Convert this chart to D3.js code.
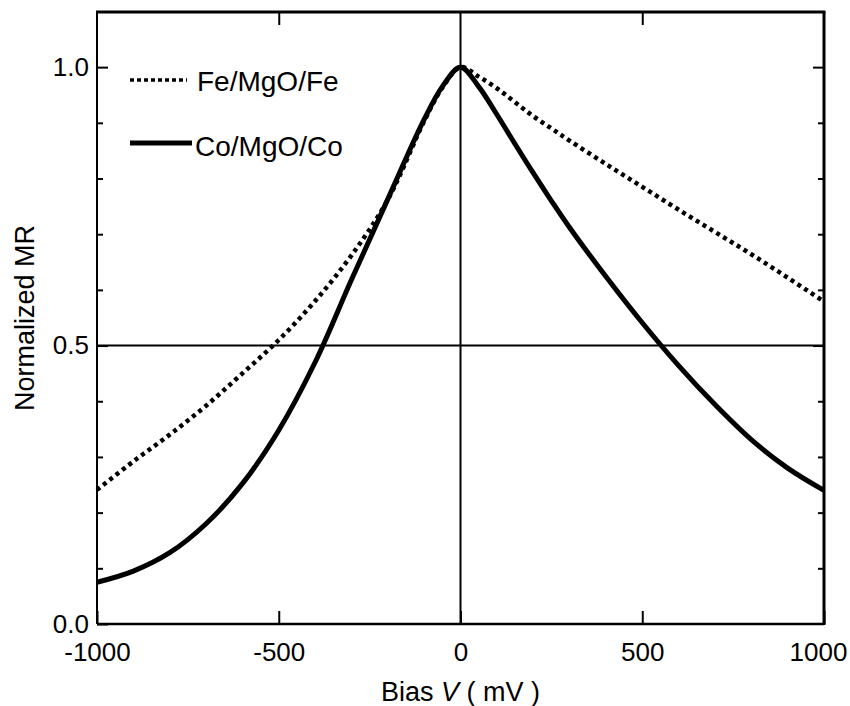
<!DOCTYPE html>
<html>
<head>
<meta charset="utf-8">
<script src="https://cdn.jsdelivr.net/npm/d3@7"></script>
<style>
  html, body { margin: 0; padding: 0; background: #fff; }
  svg { display: block; font-family: "Liberation Sans", Arial, sans-serif; }
</style>
</head>
<body>
<svg id="chart" width="850" height="706"></svg>
<script>
// Bias voltage (mV) at which the normalized MR was sampled
const biasMV = [-1000, -900, -800, -700, -600, -500, -400, -300, -200, -100, -50, 0,
                50, 100, 150, 200, 250, 300, 400, 500, 600, 700, 800, 900, 1000];

// Normalized magnetoresistance, Fe/MgO/Fe junction
const feMgOFe = [0.241, 0.292, 0.340, 0.392, 0.450, 0.510, 0.580, 0.662, 0.762, 0.903, 0.963, 1.000,
                 0.983, 0.962, 0.937, 0.912, 0.890, 0.868, 0.826, 0.785, 0.744, 0.704, 0.664, 0.622, 0.579];

// Normalized magnetoresistance, Co/MgO/Co junction
const coMgOCo = [0.075, 0.095, 0.128, 0.180, 0.252, 0.348, 0.470, 0.618, 0.763, 0.906, 0.965, 1.000,
                 0.965, 0.915, 0.862, 0.810, 0.760, 0.712, 0.624, 0.541, 0.464, 0.394, 0.331, 0.280, 0.240];

const seriesNames = ["Fe/MgO/Fe", "Co/MgO/Co"];
const xTickValues = [-1000, -500, 0, 500, 1000];
const xTickLabels = ["-1000", "-500", "0", "500", "1000"];
const yTickValues = [0, 0.5, 1.0];
const yTickLabels = ["0.0", "0.5", "1.0"];
const yMinorTicks = [0.1, 0.2, 0.3, 0.4, 0.6, 0.7, 0.8, 0.9];

const svg = d3.select("#chart");
const margin = { left: 97, right: 26, top: 12, bottom: 82 };
const W = 850, H = 706;

const x = d3.scaleLinear().domain([-1000, 1000]).range([margin.left, W - margin.right]);
const y = d3.scaleLinear().domain([0, 1.099]).range([H - margin.bottom, margin.top]);

const x0 = x.range()[0], x1 = x.range()[1];
const y0 = y.range()[0], y1 = y.range()[1];
const fontSize = 26;

// reference lines at zero bias and at half maximum
svg.append("line").attr("x1", x(0)).attr("x2", x(0)).attr("y1", y0).attr("y2", y1)
  .attr("stroke", "#000").attr("stroke-width", 2);
svg.append("line").attr("x1", x0).attr("x2", x1).attr("y1", y(0.5)).attr("y2", y(0.5))
  .attr("stroke", "#000").attr("stroke-width", 2);

// curves
const line = d3.line().curve(d3.curveCatmullRom.alpha(0.5));
const coPts = biasMV.map((v, i) => [x(v), y(coMgOCo[i])]);
const fePts = biasMV.map((v, i) => [x(v), y(feMgOFe[i])]);

svg.append("path").attr("d", line(coPts)).attr("fill", "none")
  .attr("stroke", "#000").attr("stroke-width", 5).attr("stroke-linejoin", "round");
svg.append("path").attr("d", line(fePts)).attr("fill", "none")
  .attr("stroke", "#000").attr("stroke-width", 4.5).attr("stroke-dasharray", "4,4");

// axes
const fmtX = d => xTickLabels[xTickValues.indexOf(d)];
const fmtY = d => yTickLabels[yTickValues.indexOf(d)];

function styleAxis(g) {
  g.select(".domain").remove();
  g.selectAll(".tick line").attr("stroke", "#000").attr("stroke-width", 2);
  g.selectAll(".tick text").attr("fill", "#000").attr("font-size", fontSize)
    .attr("font-family", "'Liberation Sans', Arial, sans-serif");
}

const xAxis = svg.append("g").attr("transform", `translate(0,${y0})`)
  .call(d3.axisBottom(x).tickValues(xTickValues).tickFormat(fmtX).tickSize(-13).tickPadding(19))
  .call(styleAxis);
xAxis.selectAll(".tick text").filter(d => d === 1000).attr("dx", -6);

svg.append("g").attr("transform", `translate(0,${y1})`)
  .call(d3.axisTop(x).tickValues([-500, 500]).tickFormat("").tickSize(-13))
  .call(styleAxis);

svg.append("g").attr("transform", `translate(${x0},0)`)
  .call(d3.axisLeft(y).tickValues(yTickValues).tickFormat(fmtY).tickSize(-11).tickPadding(8))
  .call(styleAxis);
svg.append("g").attr("transform", `translate(${x0},0)`)
  .call(d3.axisLeft(y).tickValues(yMinorTicks).tickFormat("").tickSize(-6))
  .call(styleAxis);
svg.append("g").attr("transform", `translate(${x1},0)`)
  .call(d3.axisRight(y).tickValues([0.5, 1.0]).tickFormat("").tickSize(-11))
  .call(styleAxis);
svg.append("g").attr("transform", `translate(${x1},0)`)
  .call(d3.axisRight(y).tickValues(yMinorTicks).tickFormat("").tickSize(-6))
  .call(styleAxis);

// frame
svg.append("line").attr("x1", x0).attr("x2", x0).attr("y1", y0).attr("y2", y1).attr("stroke", "#000").attr("stroke-width", 2);
svg.append("line").attr("x1", x0).attr("x2", x1).attr("y1", y0).attr("y2", y0).attr("stroke", "#000").attr("stroke-width", 2.5);
svg.append("line").attr("x1", x0 - 1).attr("x2", x1 + 1.5).attr("y1", y1).attr("y2", y1).attr("stroke", "#000").attr("stroke-width", 3);
svg.append("line").attr("x1", x1).attr("x2", x1).attr("y1", y0 + 1).attr("y2", y1).attr("stroke", "#000").attr("stroke-width", 3);

// axis titles
const xTitle = svg.append("text").attr("x", x(0)).attr("y", 701).attr("text-anchor", "middle")
  .attr("font-size", 27).attr("fill", "#000");
xTitle.append("tspan").text("Bias ");
xTitle.append("tspan").attr("font-style", "italic").text("V");
xTitle.append("tspan").text(" ( mV )");

svg.append("text")
  .attr("transform", `translate(34,${(y0 + y1) / 2}) rotate(-90)`)
  .attr("text-anchor", "middle").attr("font-size", 27).attr("fill", "#000")
  .text("Normalized MR");

// legend
const legend = svg.append("g");
const legendRows = [
  { name: seriesNames[0], dash: "4,3", width: 3.5, ly: 80, x2: 187, ty: 91, tx: 197 },
  { name: seriesNames[1], dash: null, width: 5, ly: 143, x2: 192, ty: 156, tx: 195 }
];
legendRows.forEach(r => {
  legend.append("line").attr("x1", 130).attr("x2", r.x2).attr("y1", r.ly).attr("y2", r.ly)
    .attr("stroke", "#000").attr("stroke-width", r.width)
    .attr("stroke-dasharray", r.dash);
  legend.append("text").attr("x", r.tx).attr("y", r.ty).attr("font-size", 28).attr("fill", "#000")
    .text(r.name);
});
</script>
</body>
</html>
